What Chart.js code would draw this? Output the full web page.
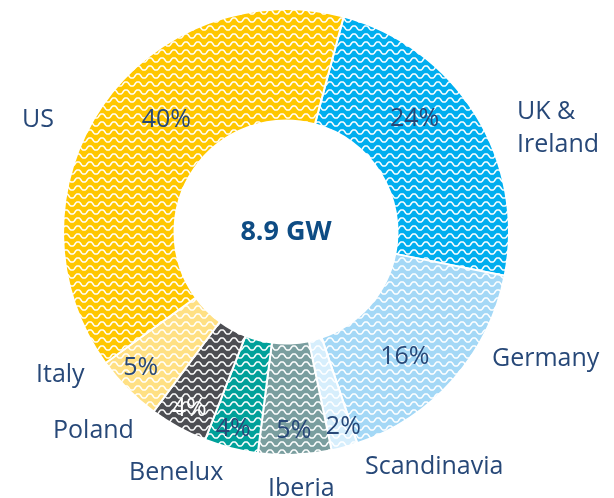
<!DOCTYPE html>
<html><head><meta charset="utf-8">
<script src="https://cdn.jsdelivr.net/npm/chart.js@4.4.1/dist/chart.umd.min.js"></script>
<style>html,body{margin:0;padding:0;background:#fff}#wrap{width:614px;height:498px}</style>
</head><body><div id="wrap"><canvas id="c" width="614" height="498"></canvas></div>
<script>
// ---- data ----
const regions = ['UK & Ireland', 'Germany', 'Scandinavia', 'Iberia', 'Benelux', 'Poland', 'Italy', 'US'];
const shares = [24, 16.7, 1.9, 5.3, 3.9, 4.2, 4.9, 39.2];          // estimated slice shares (%)
const shareLabels = ['24%', '16%', '2%', '5%', '4%', '4%', '5%', '40%'];
const centerLabel = '8.9 GW';

// ---- style ----
const regionColors = ['#00AEEF', '#A4D8F6', '#D6EEFC', '#7A9E9F', '#00A19A', '#4D4E53', '#FFE083', '#FFC700'];
const textColor = '#274878';
const fontFamily = '"Open Sans", sans-serif';
// percentage-label placement: angle offset (deg) from slice middle, radius fraction of outer radius
const pctAngleOffset = [-9.7, 4.9, -1.3, 0, 0.8, 0, 1.85, 9];
const pctRadius = [0.77, 0.77, 0.905, 0.89, 0.91, 0.9, 0.89, 0.74];
// outer name labels: offset from the doughnut centre (left edge, baseline), one entry per line
const nameLines = [
  [['UK &', 231, -113], ['Ireland', 231, -80]],
  [['Germany', 206, 134]],
  [['Scandinavia', 79, 242]],
  [['Iberia', -18, 264]],
  [['Benelux', -157, 248]],
  [['Poland', -233, 206]],
  [['Italy', -250, 150]],
  [['US', -264, -105]]
];

const canvas = document.getElementById('c');
const ctx = canvas.getContext('2d');

function wavePattern(color) {
  const t = document.createElement('canvas');
  t.width = 12; t.height = 8;
  const g = t.getContext('2d');
  g.fillStyle = color; g.fillRect(0, 0, 12, 8);
  g.strokeStyle = '#FFFFFF';
  g.lineWidth = 1.5;
  g.beginPath();
  for (let x = -1; x <= 13; x += 0.5) {
    const s = Math.max(-1, Math.min(1, 1.4 * Math.cos(2 * Math.PI * x / 12)));
    const y = 4 + 1.9 * s;
    if (x === -1) g.moveTo(x, y); else g.lineTo(x, y);
  }
  g.stroke();
  return ctx.createPattern(t, 'repeat');
}

function isDark(hex) {
  const n = parseInt(hex.slice(1), 16);
  const r = n >> 16, gg = (n >> 8) & 255, b = n & 255;
  return (0.299 * r + 0.587 * gg + 0.114 * b) < 100;
}

const labelPlugin = {
  id: 'labels',
  afterDatasetsDraw(chart) {
    const c = chart.ctx;
    const arcs = chart.getDatasetMeta(0).data;
    const cx = arcs[0].x, cy = arcs[0].y;
    c.save();
    // percentages
    c.font = '400 25px ' + fontFamily;
    c.textAlign = 'center';
    c.textBaseline = 'middle';
    arcs.forEach((arc, i) => {
      const mid = (arc.startAngle + arc.endAngle) / 2 + pctAngleOffset[i] * Math.PI / 180;
      const r = arc.outerRadius * pctRadius[i];
      c.fillStyle = isDark(regionColors[i]) ? '#FFFFFF' : textColor;
      c.fillText(shareLabels[i], cx + Math.cos(mid) * r, cy + Math.sin(mid) * r + 1);
    });
    // names
    c.font = '400 25px ' + fontFamily;
    c.textAlign = 'left';
    c.textBaseline = 'alphabetic';
    c.fillStyle = textColor;
    nameLines.forEach(lines => lines.forEach(([txt, dx, dy]) => c.fillText(txt, cx + dx, cy + dy)));
    // centre
    c.font = '700 27px ' + fontFamily;
    c.textAlign = 'center';
    c.textBaseline = 'middle';
    c.fillStyle = '#0E4C84';
    c.fillText(centerLabel, cx, cy);
    c.restore();
  }
};

new Chart(canvas, {
  type: 'doughnut',
  data: {
    labels: regions,
    datasets: [{
      data: shares,
      backgroundColor: regionColors.map(wavePattern),
      borderColor: '#FFFFFF',
      borderWidth: 2
    }]
  },
  options: {
    responsive: false,
    animation: false,
    rotation: 15,
    cutout: '50%',
    layout: { padding: { left: 60, right: 102, top: 8, bottom: 42 } },
    plugins: { legend: { display: false }, tooltip: { enabled: false } }
  },
  plugins: [labelPlugin]
});
</script>
</body></html>
